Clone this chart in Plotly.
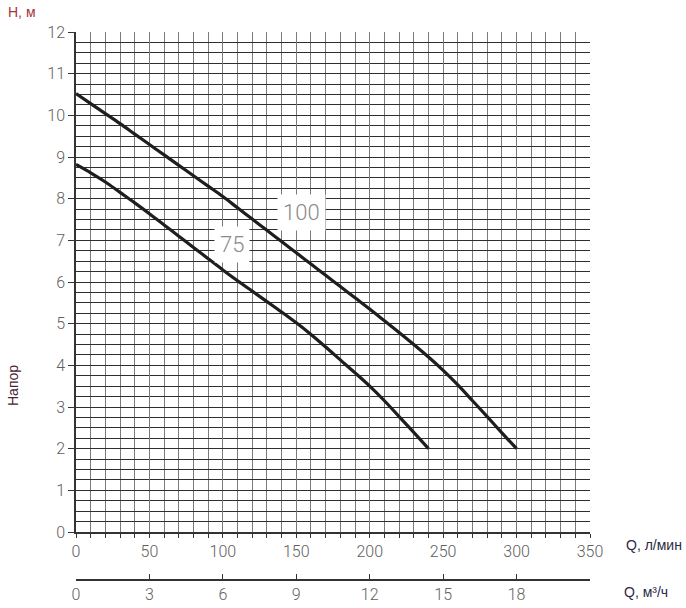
import plotly.graph_objects as go

# Q, l/min
q100 = [0, 10, 20, 30, 40, 50, 60, 70, 80, 90, 100, 110, 120, 130, 140, 150, 160, 170, 180, 190,
        200, 210, 220, 230, 240, 250, 260, 270, 280, 290, 300]
h100 = [10.52, 10.28, 10.04, 9.8, 9.55, 9.3, 9.05, 8.8, 8.55, 8.3, 8.05, 7.78, 7.51, 7.24, 6.97,
        6.7, 6.43, 6.16, 5.89, 5.62, 5.35, 5.07, 4.79, 4.5, 4.2, 3.88, 3.53, 3.15, 2.77, 2.38, 2.0]
q75 = [0, 10, 20, 30, 40, 50, 60, 70, 80, 90, 100, 110, 120, 130, 140, 150, 160, 170, 180, 190,
       200, 210, 220, 230, 240]
h75 = [8.82, 8.62, 8.4, 8.15, 7.9, 7.64, 7.37, 7.1, 6.83, 6.56, 6.29, 6.03, 5.78, 5.53, 5.28, 5.02,
       4.74, 4.44, 4.13, 3.82, 3.5, 3.15, 2.77, 2.39, 2.0]
curve_labels = ["100", "75"]
label_pos = [(153.6, 7.66), (106, 6.9)]

x_ticks = [0, 50, 100, 150, 200, 250, 300, 350]
y_ticks = list(range(0, 13))
m3h_ticks = [0, 3, 6, 9, 12, 15, 18]

tick_font = dict(family="Roboto, Liberation Sans Narrow, DejaVu Sans Condensed, sans-serif", size=16,
                 color="#606060", weight=300)
HCOL = "#2e2e2e"
VCOL = "#7a7a7a"

fig = go.Figure()
for q, h in [(q100, h100), (q75, h75)]:
    fig.add_trace(go.Scatter(x=q, y=h, mode="lines",
                             line=dict(color="#1e1e1e", width=3.2, shape="spline", smoothing=1.0),
                             hoverinfo="skip", showlegend=False))
# invisible trace so the second (m³/h) axis is drawn
fig.add_trace(go.Scatter(x=[0, 21], y=[0, 0], xaxis="x2", mode="markers", marker=dict(opacity=0),
                         hoverinfo="skip", showlegend=False))

for txt, (x, y) in zip(curve_labels, label_pos):
    fig.add_annotation(x=x, y=y, text=txt, showarrow=False, bgcolor="white", borderpad=5,
                       font=dict(family="Roboto, Liberation Sans Narrow, DejaVu Sans Condensed, sans-serif",
                                 size=22, color="#8a8a8a", weight=300))

fig.update_layout(
    width=686, height=608,
    margin=dict(l=76, r=96, t=32, b=28),
    plot_bgcolor="white", paper_bgcolor="white",
    xaxis=dict(range=[0, 350], tickvals=x_ticks, showgrid=True, gridcolor=VCOL, gridwidth=1.2,
               minor=dict(dtick=10, tick0=0, showgrid=True, gridcolor=VCOL, gridwidth=1.2,
                          ticks="outside", ticklen=4, tickcolor="#333"),
               ticks="outside", ticklen=4, tickcolor="#333", tickfont=tick_font,
               showline=True, linecolor="#333", linewidth=1.5, zeroline=False, anchor="y",
               fixedrange=True, automargin=False),
    yaxis=dict(range=[0, 12], tickvals=y_ticks, domain=[48 / 548, 1], showgrid=True, gridcolor=HCOL,
               gridwidth=1.2, minor=dict(dtick=0.25, tick0=0, showgrid=True, gridcolor=HCOL, gridwidth=1.2),
               ticks="outside", ticklen=6, tickcolor="#333", tickfont=tick_font,
               showline=True, linecolor="#333", linewidth=1.5, zeroline=False, fixedrange=True,
               automargin=False),
    xaxis2=dict(range=[0, 21], tickvals=m3h_ticks, overlaying="x", anchor="free", position=0, side="bottom",
                showgrid=False, zeroline=False, showline=True, linecolor="#333", linewidth=1.5,
                ticks="inside", ticklen=5, tickcolor="#333", tickfont=tick_font, fixedrange=True,
                automargin=False),
)

axis_title_font = dict(family="Liberation Sans, Arial, sans-serif", size=14, color="#2a2a45")
fig.add_annotation(xref="paper", yref="paper", x=1.0, y=(608 - 28 - 545) / 548, xshift=34, text="Q, л/мин",
                   showarrow=False, xanchor="left", yanchor="middle", font=axis_title_font)
fig.add_annotation(xref="paper", yref="paper", x=1.0, y=(608 - 28 - 592) / 548, xshift=32, text="Q, м³/ч",
                   showarrow=False, xanchor="left", yanchor="middle", font=axis_title_font)
fig.add_annotation(xref="paper", yref="paper", x=0, y=1, xshift=-70, yshift=20, text="H, м", showarrow=False,
                   xanchor="left", yanchor="middle",
                   font=dict(family="Liberation Sans, Arial, sans-serif", size=14, color="#a8323c"))
fig.add_annotation(xref="paper", yref="paper", x=0, y=(608 - 28 - 386) / 548, xshift=-63, text="Напор",
                   showarrow=False, textangle=-90, xanchor="center", yanchor="middle",
                   font=dict(family="Liberation Sans, Arial, sans-serif", size=14, color="#4a2235"))

fig.write_html("out.html", config={"displayModeBar": False},
               post_script="document.body.style.margin='0';document.body.style.overflow='hidden';")
